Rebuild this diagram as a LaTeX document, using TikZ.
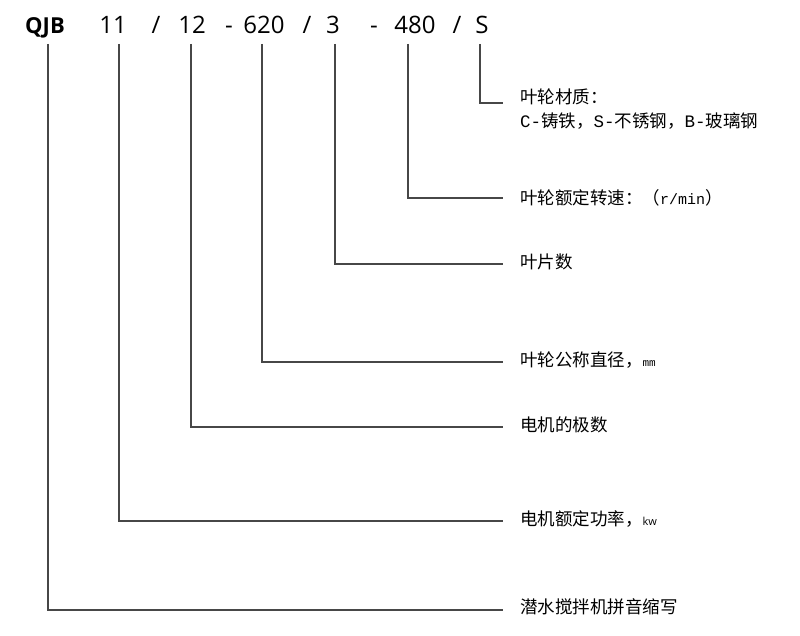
\documentclass[tikz,border=0pt]{standalone}
\usepackage{fontspec}
\setmainfont{Open Sans}
\newfontfamily\cjk{Noto Sans CJK SC}
\newfontfamily\mono{Liberation Mono}
\begin{document}
\begin{tikzpicture}[x=1pt,y=-1pt,
        code/.style={anchor=base,inner sep=0pt,font=\fontsize{24}{24}\selectfont},
        lab/.style={anchor=west,inner sep=0pt,outer sep=17pt,font=\cjk\fontsize{17.5}{20}\selectfont},
        lead/.style={draw=black!72,line width=1.5pt}]
                \useasboundingbox (0,0) rectangle (800,636);
                \node[code,font=\bfseries\fontsize{22}{22}\selectfont] (QJB) at (45,34) {QJB};
                \node[code] (P) at (113,34) {11};
                \node[code] (s1) at (156,34) {/};
                \node[code] (N) at (192,34) {12};
                \node[code] (d1) at (229,34) {-};
                \node[code] (D) at (264,34) {620};
                \node[code] (s2) at (307,34) {/};
                \node[code] (Z) at (333,34) {3};
                \node[code] (d2) at (374,34) {-};
                \node[code] (R) at (415,34) {480};
                \node[code] (s3) at (457,34) {/};
                \node[code] (M) at (482,34) {S};
                \coordinate (tQJB) at (48,44);
                \coordinate (tP) at (119,44);
                \coordinate (tN) at (191,44);
                \coordinate (tD) at (262,44);
                \coordinate (tZ) at (335,44);
                \coordinate (tR) at (408,44);
                \coordinate (tM) at (480,44);
                \node[lab] (lM) at (503,97) {叶轮材质：};
                \node[lab] (lM2) at (503,121) {{\mono C-}铸铁，{\mono S-}不锈钢，{\mono B-}玻璃钢};
                \node[lab] (lR) at (503,198) {叶轮额定转速：（{\mono\fontsize{15}{15}\selectfont r/min}）};
                \node[lab] (lZ) at (503,262) {叶片数};
                \node[lab] (lD) at (503,360) {叶轮公称直径，{\mono\fontsize{11}{11}\selectfont mm}};
                \node[lab] (lN) at (503,425) {电机的极数};
                \node[lab] (lP) at (503,519) {电机额定功率，{\rmfamily\fontsize{11}{11}\selectfont kw}};
                \node[lab] (lQJB) at (503,607) {潜水搅拌机拼音缩写};
                \draw[lead] (tM) |- ([yshift=-6pt]lM.west);
                \draw[lead] (tR) |- (lR.west);
                \draw[lead] (tZ) |- ([yshift=-2pt]lZ.west);
                \draw[lead] (tD) |- ([yshift=-2pt]lD.west);
                \draw[lead] (tN) |- ([yshift=-2pt]lN.west);
                \draw[lead] (tP) |- ([yshift=-2pt]lP.west);
                \draw[lead] (tQJB) |- ([yshift=-3pt]lQJB.west);
            \end{tikzpicture}
\end{document}
